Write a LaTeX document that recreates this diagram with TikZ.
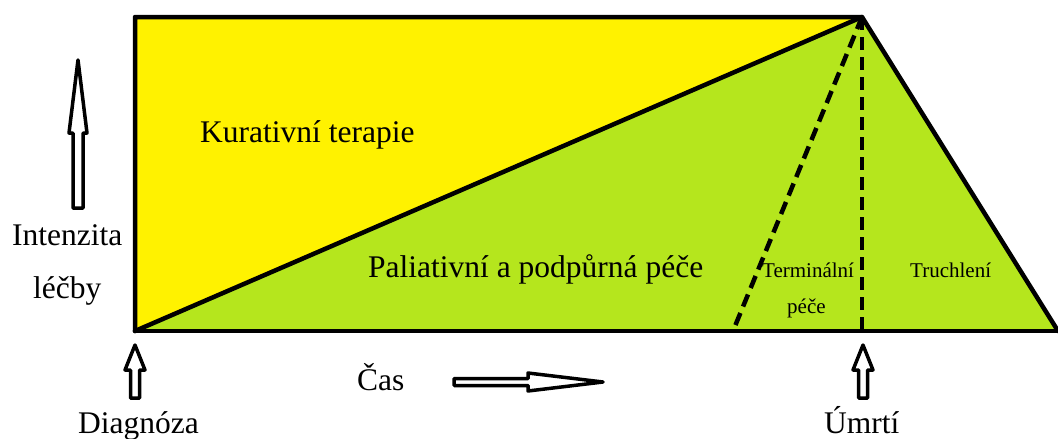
\documentclass[tikz,border=0pt]{standalone}
\usepackage{fontspec}
\setmainfont{Liberation Serif}
\newfontfamily\timesfont{Liberation Serif}
\definecolor{kyellow}{HTML}{FFF200}
\definecolor{kgreen}{HTML}{B5E61D}
\begin{document}
\begin{tikzpicture}[x=1pt,y=-1pt,
  edge/.style={line width=4.5pt,line cap=round,line join=round},
  dashline/.style={line width=4.5pt,dash pattern=on 13pt off 7pt},
  blockarrow/.style={draw,fill=white,line width=3.5pt,line join=round},
  bigtext/.style={font=\timesfont\fontsize{31.5}{36}\selectfont,inner sep=0pt,anchor=base west},
  smalltext/.style={font=\timesfont\fontsize{21}{24}\selectfont,inner sep=0pt,anchor=base west}]
\useasboundingbox (0,0) rectangle (1058,439);
% corners
\coordinate (tl) at (135,17);
\coordinate (peak) at (862,17);
\coordinate (bl) at (135,331);
\coordinate (br) at (1058,331);
\coordinate (term) at (733,331);
\coordinate (death) at (862,331);
% fills
\fill[kyellow] (tl) -- (peak) -- (bl) -- cycle;
\fill[kgreen] (bl) -- (peak) -- (br) -- cycle;
% dashed lines
\draw[dashline] (peak) -- (term);
\draw[dashline] (peak) -- (death);
% outline
\draw[edge] (bl) -- (tl) -- (peak) -- (br);
\draw[edge] (bl) -- (br);
\draw[edge] (bl) -- (peak);
% block arrows
\draw[blockarrow] (78,60) -- (87,133) -- (83,133) -- (83,208) -- (73,208) -- (73,133) -- (69,133) -- cycle;
\draw[blockarrow] (135,345) -- (145,370) -- (139.5,370) -- (139.5,398) -- (130.5,398) -- (130.5,370) -- (125,370) -- cycle;
\draw[blockarrow] (863,345) -- (873,370) -- (867.5,370) -- (867.5,398) -- (858.5,398) -- (858.5,370) -- (853,370) -- cycle;
\draw[blockarrow] (603,382) -- (528,391) -- (528,385.5) -- (454,385.5) -- (454,378.5) -- (528,378.5) -- (528,373) -- cycle;
% texts
\node[bigtext] (kur) at (200,142) {Kurativní terapie};
\node[bigtext] (pal) at (368,277) {Paliativní a podpůrná péče};
\node[bigtext] (int) at (12,245) {Intenzita};
\node[bigtext] (lec) at (33,298) {léčby};
\node[bigtext] (dia) at (78,433) {Diagnóza};
\node[bigtext] (cas) at (357,390) {Čas};
\node[bigtext] (umr) at (824,433) {Úmrtí};
\node[smalltext] (ter) at (762,277) {Terminální};
\node[smalltext] (pec) at (787,313) {péče};
\node[smalltext] (tru) at (910,277) {Truchlení};
\end{tikzpicture}
\end{document}
